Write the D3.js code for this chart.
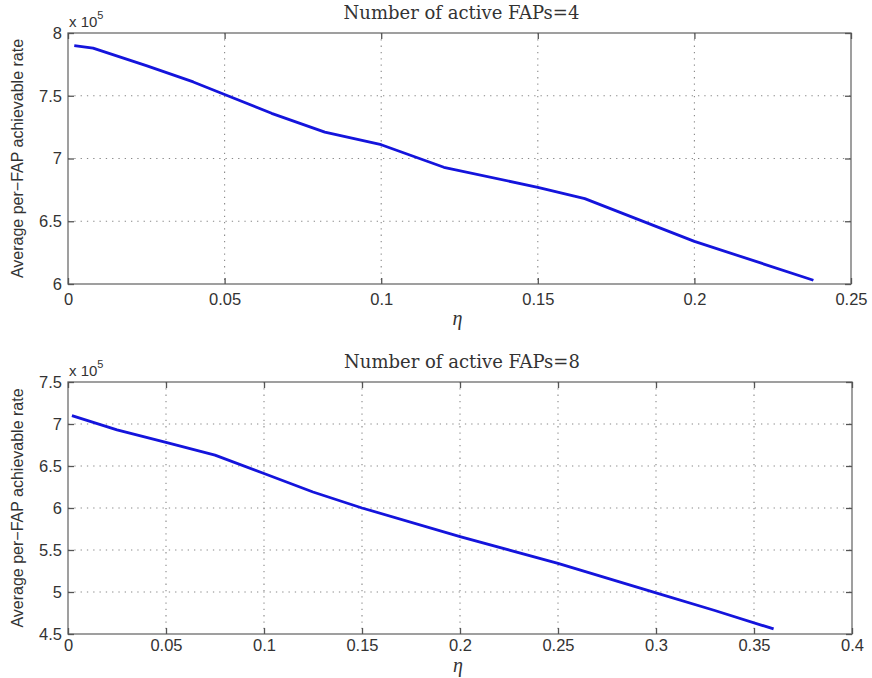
<!DOCTYPE html>
<html><head><meta charset="utf-8">
<script src="https://cdn.jsdelivr.net/npm/d3@7"></script>
<style>body{margin:0;background:#fff}svg{display:block}</style>
</head><body>
<svg id="c" width="872" height="678"></svg>
<script>
// Data (y values in units of 1e5)
const eta4 = [0.002, 0.008, 0.025, 0.04, 0.05, 0.065, 0.082, 0.1, 0.12, 0.15, 0.165, 0.2, 0.238];
const rate4 = [7.90, 7.88, 7.74, 7.61, 7.51, 7.36, 7.21, 7.11, 6.93, 6.77, 6.68, 6.34, 6.03];
const eta8 = [0.002, 0.025, 0.05, 0.075, 0.1, 0.125, 0.15, 0.2, 0.25, 0.3, 0.33, 0.36];
const rate8 = [7.10, 6.93, 6.78, 6.63, 6.41, 6.19, 6.00, 5.66, 5.34, 4.99, 4.78, 4.56];
const xTicks4 = [0, 0.05, 0.1, 0.15, 0.2, 0.25];
const yTicks4 = [6, 6.5, 7, 7.5, 8];
const xTicks8 = [0, 0.05, 0.1, 0.15, 0.2, 0.25, 0.3, 0.35, 0.4];
const yTicks8 = [4.5, 5, 5.5, 6, 6.5, 7, 7.5];
const titles = ["Number of active FAPs=4", "Number of active FAPs=8"];
const yLabel = "Average per\u2212FAP achievable rate";

const svg = d3.select("#c");
const fmt = d => d === 0 ? "0" : String(d);
const SANS = "Liberation Sans, Arial, sans-serif";

function panel(cfg) {
  const {x0, x1, y0, y1, xd, yd, xt, yt, ex, ey, title, etaDy, padX} = cfg;
  const x = d3.scaleLinear().domain(xd).range([x0, x1]);
  const y = d3.scaleLinear().domain(yd).range([y1, y0]);
  const g = svg.append("g");
  // grid
  g.selectAll(".vg").data(xt.slice(1, -1)).enter().append("line")
    .attr("x1", d => x(d)).attr("x2", d => x(d)).attr("y1", y0).attr("y2", y1)
    .attr("stroke", "#888").attr("stroke-width", 1.1).attr("stroke-dasharray", "1.3,5");
  g.selectAll(".hg").data(yt.slice(1, -1)).enter().append("line")
    .attr("y1", d => y(d)).attr("y2", d => y(d)).attr("x1", x0).attr("x2", x1)
    .attr("stroke", "#888").attr("stroke-width", 1.1).attr("stroke-dasharray", "1.3,5");
  // box
  g.append("rect").attr("x", x0).attr("y", y0).attr("width", x1 - x0).attr("height", y1 - y0)
    .attr("fill", "none").attr("stroke", "#777").attr("stroke-width", 1.4);
  // axes ticks (inward)
  const ax = g.append("g").attr("transform", `translate(0,${y1})`)
    .call(d3.axisBottom(x).tickValues(xt).tickFormat(fmt).tickSizeInner(-6).tickSizeOuter(0).tickPadding(padX));
  const axT = g.append("g").attr("transform", `translate(0,${y0})`)
    .call(d3.axisTop(x).tickValues(xt).tickFormat("").tickSizeInner(-6).tickSizeOuter(0));
  const ay = g.append("g").attr("transform", `translate(${x0},0)`)
    .call(d3.axisLeft(y).tickValues(yt).tickFormat(fmt).tickSizeInner(-6).tickSizeOuter(0).tickPadding(6));
  const ayR = g.append("g").attr("transform", `translate(${x1},0)`)
    .call(d3.axisRight(y).tickValues(yt).tickFormat("").tickSizeInner(-6).tickSizeOuter(0));
  [ax, axT, ay, ayR].forEach(a => {
    a.select(".domain").remove();
    a.selectAll("line").attr("stroke", "#555").attr("stroke-width", 1.3);
    a.selectAll("text").attr("fill", "#333").style("font-family", SANS).style("font-size", "16.5px");
  });
  // line
  const line = d3.line().x(d => x(d[0])).y(d => y(d[1]));
  g.append("path").datum(ex.map((v, i) => [v, ey[i]]))
    .attr("d", line).attr("fill", "none").attr("stroke", "#1414dc").attr("stroke-width", 2.8)
    .attr("stroke-linejoin", "round");
  // title
  g.append("text").attr("x", (x0 + x1) / 2 + 2).attr("y", y0 - 14).attr("text-anchor", "middle")
    .style("font-family", "DejaVu Serif, serif").style("font-size", "18px").attr("fill", "#333")
    .text(title);
  // x10^5
  const ex5 = g.append("text").attr("x", x0 + 1).attr("y", y0 - 6)
    .style("font-family", SANS).style("font-size", "15px").attr("fill", "#333");
  ex5.append("tspan").text("x 10");
  ex5.append("tspan").attr("dy", -8).style("font-size", "11px").text("5");
  // x label
  g.append("text").attr("x", (x0 + x1) / 2 - 2).attr("y", y1 + etaDy).attr("text-anchor", "middle")
    .style("font-family", "Liberation Serif, Times New Roman, serif").style("font-style", "italic").style("font-size", "20px").attr("fill", "#333")
    .text("\u03B7");
  // y label
  g.append("text").attr("transform", `translate(23,${(y0 + y1) / 2}) rotate(-90)`).attr("text-anchor", "middle")
    .style("font-family", SANS).style("font-size", "16px").attr("fill", "#333")
    .text(yLabel);
}

panel({x0: 68, x1: 851, y0: 33, y1: 284, xd: [0, 0.25], yd: [6, 8], xt: xTicks4, yt: yTicks4, ex: eta4, ey: rate4, title: titles[0], etaDy: 41, padX: 9});
panel({x0: 68, x1: 852, y0: 382, y1: 634, xd: [0, 0.4], yd: [4.5, 7.5], xt: xTicks8, yt: yTicks8, ex: eta8, ey: rate8, title: titles[1], etaDy: 38, padX: 5});
</script>
</body></html>
